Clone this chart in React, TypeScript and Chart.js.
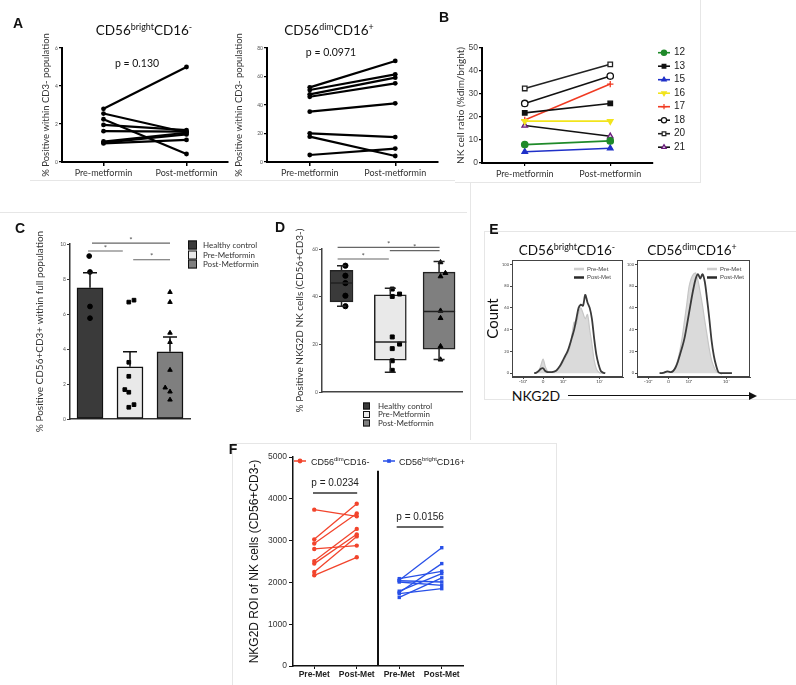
import React, { useEffect, useRef } from 'react';
import { Chart, registerables } from 'chart.js';
import { drawPoint } from 'chart.js/helpers';

Chart.register(...registerables);

const SANS = 'Lato, "Open Sans", "DejaVu Sans", sans-serif';
const ARIAL = '"Liberation Sans", Arial, sans-serif';
Chart.defaults.font.family = SANS;
Chart.defaults.color = '#333';

// ===== Panel A =====
const aCategories = ['Pre-metformin', 'Post-metformin'];
const aBrightPre = [2.8, 2.55, 2.25, 1.95, 1.62, 1.08, 1.02, 0.98];
const aBrightPost = [5.0, 1.55, 0.42, 1.68, 1.6, 1.54, 1.45, 1.16];
const aBrightTicks = [0, 2, 4, 6];
const aDimPre = [52.4, 50.5, 47.5, 45.8, 35.3, 20.1, 17.8, 4.9];
const aDimPost = [70.9, 61.5, 59.2, 55.2, 41.2, 17.5, 4.2, 9.4];
const aDimTicks = [0, 20, 40, 60, 80];

// ===== Panel B =====
const bSubjects = ['12', '13', '15', '16', '17', '18', '20', '21'];
const bPre = [8.0, 21.8, 4.9, 18.2, 18.7, 25.9, 32.4, 16.3];
const bPost = [9.6, 25.9, 6.4, 18.2, 34.3, 37.8, 42.9, 11.6];
const bTicks = [0, 10, 20, 30, 40, 50];
const bLineColors = ['#1f8a2a', '#111111', '#1f30c8', '#f2e41c', '#f03a22', '#111111', '#222222', '#111111'];
const bPointStyles = ['circle', 'rect', 'triangle', 'triangle', 'cross', 'circle', 'rect', 'triangle'];
const bPointRotation = [0, 0, 0, 180, 0, 0, 0, 0];
const bPointFill = ['#1f8a2a', '#111111', '#1f30c8', '#f2e41c', '#f03a22', '#ffffff', '#ffffff', '#d9c2e6'];
const bPointEdge = ['#1f8a2a', '#111111', '#1f30c8', '#f2e41c', '#f03a22', '#111111', '#222222', '#6a1b7a'];

// ===== Panel C =====
const cGroups = ['Healthy control', 'Pre-Metformin', 'Post-Metformin'];
const cMeans = [7.5, 2.98, 3.84];
const cSemTop = [8.36, 3.85, 4.69];
const cHealthy = [9.31, 8.4, 6.43, 5.76];
const cHealthyX = [-0.02, 0, 0, 0];
const cPre = [6.68, 6.79, 3.24, 2.44, 1.68, 1.53, 0.67, 0.82];
const cPreX = [0.97, 1.1, 0.97, 0.97, 0.87, 0.97, 0.97, 1.1];
const cPost = [7.25, 6.68, 4.92, 4.39, 2.8, 1.79, 1.56, 1.1];
const cPostX = [2, 2, 2, 2, 2, 1.88, 2, 2];
const cTicks = [0, 2, 4, 6, 8, 10];
const cSigFrom = [0.05, -0.05, 1.08];
const cSigTo = [2.0, 0.82, 2.0];
const cSigY = [10.05, 9.6, 9.1];
const groupColors = ['#3a3a3a', '#e9e9e9', '#7f7f7f'];

// ===== Panel D =====
const dMin = [36, 8.3, 13.6];
const dQ1 = [37.8, 13.4, 18];
const dMedian = [45.7, 21, 33.8];
const dQ3 = [51, 40.8, 50.3];
const dMax = [53, 43.5, 54.8];
const dHealthy = [53, 48.8, 45.7, 40.4, 36];
const dHealthyX = [0.08, 0.08, 0.08, 0.08, 0.08];
const dPre = [43.2, 40.1, 41.1, 23.1, 20.1, 18.2, 13.1, 9.1];
const dPreX = [1.04, 1.04, 1.19, 1.04, 1.19, 1.04, 1.04, 1.04];
const dPost = [54.4, 48.5, 49.9, 34.1, 31, 19.2, 13.6];
const dPostX = [2.03, 2.03, 2.13, 2.03, 2.03, 2.03, 2.03];
const dTicks = [0, 20, 40, 60];
const dSigFrom = [-0.08, 0.99, -0.08];
const dSigTo = [2.01, 2.01, 0.97];
const dSigY = [60.7, 59.3, 55.8];
const dBoxWidths = [23, 32, 32];
const dCapWidths = [9, 11, 11];

// ===== Panel E =====
const eBins = [20, 22, 24, 26, 28, 30, 32, 34, 36, 38, 40, 42, 44, 46, 48, 50, 52, 54, 56, 58, 60, 62, 64, 66, 68, 70, 72, 74, 76, 78, 80, 82, 84];
const eBrightPre = [0, 0.5, 2, 7, 13, 6, 2, 1, 1, 1.5, 2.5, 4, 7, 10, 14, 18, 23, 35, 47, 45, 55, 60, 55, 50, 54, 40, 27, 12, 4, 1, 0, 0, 0];
const eBrightPost = [0, 0.5, 2, 4, 4.5, 2, 1, 1, 1, 1.5, 2.5, 5, 8, 12, 16, 20, 26, 33, 40, 50, 60, 63, 62, 72, 65, 60, 50, 32, 17, 8, 2, 0.5, 0];
const eDimPre = [0, 0, 0.5, 1, 1, 1, 2, 6, 12, 21, 33, 48, 63, 79, 87, 91, 92, 85, 74, 62, 48, 35, 22, 12, 6, 2, 0.5, 0, 0, 0, 0, 0, 0];
const eDimPost = [0, 0, 0.5, 1.5, 1.5, 1, 2, 5, 10, 17, 24, 32, 43, 55, 67, 78, 87, 91, 87, 91, 84, 68, 50, 30, 16, 7, 1, 0, 0, 0, 0, 0, 0];
const eTickValues = [10, 28, 46, 79];
const eTickLabels = ['-10³', '0', '10³', '10⁴'];
const eYTicks = [0, 20, 40, 60, 80, 100];

// ===== Panel F =====
const fLabels = ['Pre-Met', 'Post-Met', 'Pre-Met', 'Post-Met'];
const fDimPre = [3740, 3030, 2930, 2800, 2510, 2450, 2250, 2170];
const fDimPost = [3580, 3880, 3650, 2880, 3280, 3150, 3100, 2600];
const fBrightPre = [2050, 1760, 2090, 1790, 1640, 2010, 2040, 1730];
const fBrightPost = [2830, 2450, 2265, 2210, 2110, 1930, 2010, 1850];
const fTicks = [0, 1000, 2000, 3000, 4000, 5000];
const fPFrom = [-0.03, 1.94];
const fPTo = [1.01, 3.04];
const fPY = [4140, 3325];
const fPText = ['p = 0.0234', 'p = 0.0156'];
const fSepTop = 4670;

const setTicks = (vals: number[]) => (s: any) => {
  s.ticks = vals.map((v) => ({ value: v }));
};

const baseOpts = (pad: any) => ({
  responsive: false,
  animation: false,
  events: [],
  layout: { padding: pad },
  plugins: { legend: { display: false }, tooltip: { enabled: false } },
});

// ---------- A ----------
function pairedConfig(pre: number[], post: number[], yMax: number, yTicks: number[], pad: any, yW: number, xH: number, tPad: number) {
  return {
    type: 'line',
    data: {
      labels: aCategories,
      datasets: pre.map((v, i) => ({
        data: [v, post[i]],
        borderColor: '#000',
        backgroundColor: '#000',
        borderWidth: 2.2,
        pointRadius: 2.4,
        pointBorderWidth: 0,
      })),
    },
    options: {
      ...baseOpts(pad),
      scales: {
        x: {
          offset: true,
          grid: { drawOnChartArea: false, color: '#000', lineWidth: 1.5, tickLength: 4 },
          border: { color: '#000', width: 2 },
          ticks: { font: { size: 9 }, color: '#333', padding: 2, maxRotation: 0, autoSkip: false },
          afterFit: (s: any) => { s.height = xH; },
        },
        y: {
          min: 0,
          max: yMax,
          afterBuildTicks: setTicks(yTicks),
          grid: { drawOnChartArea: false, color: '#000', lineWidth: 1.2, tickLength: 3 },
          border: { color: '#000', width: 2 },
          ticks: { font: { size: 5 }, color: '#555', padding: 1, callback: (v: any) => String(v) },
          title: { display: true, text: '% Positive within CD3- population', font: { size: 9.5 }, color: '#333', padding: { top: tPad, bottom: 0 } },
          afterFit: (s: any) => { s.width = yW; },
        },
      },
    },
  };
}

// ---------- B ----------
const bLegendPlugin = (L: number, T: number) => ({
  id: 'bLegend',
  afterDraw(chart: any) {
    const ctx = chart.ctx;
    ctx.save();
    ctx.translate(-L, -T);
    bSubjects.forEach((s, i) => {
      const y = 52.7 + i * 13.5;
      ctx.strokeStyle = bLineColors[i];
      ctx.lineWidth = 1.6;
      ctx.beginPath();
      ctx.moveTo(658, y);
      ctx.lineTo(670, y);
      ctx.stroke();
      ctx.fillStyle = bPointFill[i];
      ctx.strokeStyle = bPointEdge[i];
      ctx.lineWidth = 1.2;
      drawPoint(ctx, { pointStyle: bPointStyles[i], rotation: bPointRotation[i], radius: 2.6, borderWidth: 1.2 } as any, 664, y);
      ctx.fillStyle = '#222';
      ctx.font = `10px ${ARIAL}`;
      ctx.textBaseline = 'middle';
      ctx.textAlign = 'left';
      ctx.fillText(s, 674, y);
    });
    ctx.restore();
  },
});

function buildB() {
  return {
    type: 'line',
    data: {
      labels: aCategories,
      datasets: bSubjects.map((s, i) => ({
        label: s,
        data: [bPre[i], bPost[i]],
        borderColor: bLineColors[i],
        borderWidth: 1.6,
        pointStyle: bPointStyles[i],
        pointRotation: bPointRotation[i],
        pointRadius: 3.2,
        pointBackgroundColor: bPointFill[i],
        pointBorderColor: bPointEdge[i],
        pointBorderWidth: 1.3,
      })),
    },
    options: {
      ...baseOpts({ left: 0, right: 49, top: 48, bottom: 3 }),
      scales: {
        x: {
          offset: true,
          grid: { drawOnChartArea: false, color: '#000', lineWidth: 1.2, tickLength: 3 },
          border: { color: '#000', width: 2 },
          ticks: { font: { size: 9 }, color: '#333', padding: 3, maxRotation: 0, autoSkip: false },
          afterFit: (s: any) => { s.height = 19; },
        },
        y: {
          min: 0,
          max: 50,
          afterBuildTicks: setTicks(bTicks),
          grid: { drawOnChartArea: false, color: '#000', lineWidth: 1.2, tickLength: 3 },
          border: { color: '#000', width: 2 },
          ticks: { font: { size: 8.5, family: ARIAL }, color: '#444', padding: 1, callback: (v: any) => String(v) },
          title: { display: true, text: 'NK cell ratio (%dim/bright)', font: { size: 10 }, color: '#333', padding: { top: 3, bottom: 0 } },
          afterFit: (s: any) => { s.width = 30; },
        },
      },
    },
    plugins: [bLegendPlugin(452, 0)],
  };
}

// ---------- shared legend for C / D ----------
const boxLegendPlugin = (L: number, T: number, sqX: number, sq: number, textX: number, rows: number[], fs: number) => ({
  id: 'boxLegend',
  afterDraw(chart: any) {
    const ctx = chart.ctx;
    ctx.save();
    ctx.translate(-L, -T);
    cGroups.forEach((g, i) => {
      const y = rows[i];
      ctx.fillStyle = groupColors[i];
      ctx.strokeStyle = '#111';
      ctx.lineWidth = 1;
      ctx.fillRect(sqX, y - sq / 2, sq, sq);
      ctx.strokeRect(sqX + 0.5, y - sq / 2 + 0.5, sq - 1, sq - 1);
      ctx.fillStyle = '#333';
      ctx.font = `${fs}px ${SANS}`;
      ctx.textBaseline = 'middle';
      ctx.textAlign = 'left';
      ctx.fillText(g, textX, y);
    });
    ctx.restore();
  },
});

const sigDraw = (ctx: any, x: any, y: any, from: number[], to: number[], ys: number[]) => {
  ctx.strokeStyle = '#666';
  ctx.lineWidth = 1.2;
  ctx.fillStyle = '#555';
  ctx.font = `8px ${SANS}`;
  ctx.textAlign = 'center';
  ctx.textBaseline = 'bottom';
  from.forEach((f, i) => {
    const x0 = x.getPixelForValue(f);
    const x1 = x.getPixelForValue(to[i]);
    const py = y.getPixelForValue(ys[i]);
    ctx.beginPath();
    ctx.moveTo(x0, py);
    ctx.lineTo(x1, py);
    ctx.stroke();
    ctx.fillText('*', (x0 + x1) / 2, py + 1);
  });
};

// ---------- C ----------
const cExtras = {
  id: 'cExtras',
  afterDatasetsDraw(chart: any) {
    const { ctx, scales } = chart;
    const x = scales.x;
    const y = scales.y;
    ctx.save();
    ctx.strokeStyle = '#111';
    ctx.lineWidth = 1.5;
    cMeans.forEach((m, i) => {
      const px = x.getPixelForValue(i);
      const y0 = y.getPixelForValue(m);
      const y1 = y.getPixelForValue(cSemTop[i]);
      ctx.beginPath();
      ctx.moveTo(px, y0);
      ctx.lineTo(px, y1);
      ctx.moveTo(px - 7, y1);
      ctx.lineTo(px + 7, y1);
      ctx.stroke();
    });
    sigDraw(ctx, x, y, cSigFrom, cSigTo, cSigY);
    ctx.restore();
  },
};

function pts(vals: number[], xs: number[]) {
  return vals.map((v, i) => ({ x: xs[i], y: v }));
}

function buildC() {
  return {
    type: 'bar',
    data: {
      datasets: [
        {
          type: 'bar',
          data: cMeans.map((m, i) => ({ x: i, y: m })),
          backgroundColor: groupColors,
          borderColor: '#111',
          borderWidth: 1.5,
          borderSkipped: false,
          barThickness: 26,
          order: 2,
        },
        { type: 'scatter', data: pts(cHealthy, cHealthyX), pointStyle: 'circle', pointRadius: 2.4, backgroundColor: '#000', borderColor: '#000', order: 1 },
        { type: 'scatter', data: pts(cPre, cPreX), pointStyle: 'rect', pointRadius: 2.6, backgroundColor: '#000', borderColor: '#000', order: 1 },
        { type: 'scatter', data: pts(cPost, cPostX), pointStyle: 'triangle', pointRadius: 2.6, backgroundColor: '#000', borderColor: '#000', order: 1 },
      ],
    },
    options: {
      ...baseOpts({ left: 32, right: 82, top: 59, bottom: 14 }),
      scales: {
        x: {
          type: 'linear',
          offset: false,
          min: -0.5,
          max: 2.5,
          ticks: { display: false },
          grid: { display: true, drawOnChartArea: false, drawTicks: false },
          border: { color: '#333', width: 1.5 },
          afterFit: (s: any) => { s.height = 2; },
        },
        y: {
          min: 0,
          max: 10,
          afterBuildTicks: setTicks(cTicks),
          ticks: { font: { size: 5 }, color: '#555', padding: 1, callback: (v: any) => String(v) },
          grid: { drawOnChartArea: false, tickLength: 3, color: '#333' },
          border: { color: '#333', width: 1.5 },
          title: { display: true, text: '% Positive CD56+CD3+ within full population', font: { size: 10 }, color: '#333', padding: { top: 2, bottom: 0 } },
          afterFit: (s: any) => { s.width = 38; },
        },
      },
    },
    plugins: [cExtras, boxLegendPlugin(0, 185, 188, 9, 203, [245, 255, 264], 8)],
  };
}

// ---------- D ----------
const dExtras = {
  id: 'dExtras',
  afterDatasetsDraw(chart: any) {
    const { ctx, scales } = chart;
    const x = scales.x;
    const y = scales.y;
    ctx.save();
    ctx.strokeStyle = '#222';
    ctx.lineWidth = 1.5;
    dMedian.forEach((med, i) => {
      const px = x.getPixelForValue(i);
      const hw = dBoxWidths[i] / 2;
      const cw = dCapWidths[i] / 2;
      const yMed = y.getPixelForValue(med);
      const yQ1 = y.getPixelForValue(dQ1[i]);
      const yQ3 = y.getPixelForValue(dQ3[i]);
      const yMin = y.getPixelForValue(dMin[i]);
      const yMax = y.getPixelForValue(dMax[i]);
      ctx.beginPath();
      ctx.moveTo(px - hw, yMed);
      ctx.lineTo(px + hw, yMed);
      ctx.moveTo(px, yQ3);
      ctx.lineTo(px, yMax);
      ctx.moveTo(px - cw, yMax);
      ctx.lineTo(px + cw, yMax);
      ctx.moveTo(px, yQ1);
      ctx.lineTo(px, yMin);
      ctx.moveTo(px - cw, yMin);
      ctx.lineTo(px + cw, yMin);
      ctx.stroke();
    });
    sigDraw(ctx, x, y, dSigFrom, dSigTo, dSigY);
    ctx.restore();
  },
};

function buildD() {
  return {
    type: 'bar',
    data: {
      datasets: [
        ...cGroups.map((g, i) => ({
          type: 'bar',
          label: g,
          data: [{ x: i, y: [dQ1[i], dQ3[i]] }],
          backgroundColor: groupColors[i],
          borderColor: '#222',
          borderWidth: 1.5,
          borderSkipped: false,
          barThickness: dBoxWidths[i],
          grouped: false,
          order: 2,
        })),
        { type: 'scatter', data: pts(dHealthy, dHealthyX), pointStyle: 'circle', pointRadius: 2.6, backgroundColor: '#000', borderColor: '#000', order: 1 },
        { type: 'scatter', data: pts(dPre, dPreX), pointStyle: 'rect', pointRadius: 2.8, backgroundColor: '#000', borderColor: '#000', order: 1 },
        { type: 'scatter', data: pts(dPost, dPostX), pointStyle: 'triangle', pointRadius: 2.8, backgroundColor: '#000', borderColor: '#000', order: 1 },
      ],
    },
    options: {
      ...baseOpts({ left: 20, right: 8, top: 59, bottom: 41 }),
      scales: {
        x: {
          type: 'linear',
          offset: false,
          min: -0.4,
          max: 2.47,
          ticks: { display: false },
          grid: { display: true, drawOnChartArea: false, drawTicks: false },
          border: { color: '#444', width: 1.5 },
          afterFit: (s: any) => { s.height = 2; },
        },
        y: {
          min: 0,
          max: 60,
          afterBuildTicks: setTicks(dTicks),
          ticks: { font: { size: 5 }, color: '#555', padding: 1, callback: (v: any) => String(v) },
          grid: { drawOnChartArea: false, tickLength: 3, color: '#444' },
          border: { color: '#444', width: 1.5 },
          title: { display: true, text: '% Positive NKG2D NK cells (CD56+CD3-)', font: { size: 10 }, color: '#333', padding: { top: 2, bottom: 0 } },
          afterFit: (s: any) => { s.width = 30; },
        },
      },
    },
    plugins: [dExtras, boxLegendPlugin(272, 190, 363, 7, 378, [406, 414.5, 423], 8)],
  };
}

// ---------- E ----------
const histPlugin = (L: number, T: number, lineX: number, textX: number) => ({
  id: 'histExtras',
  afterDatasetsDraw(chart: any) {
    const { ctx, chartArea: a } = chart;
    ctx.save();
    ctx.strokeStyle = '#444';
    ctx.lineWidth = 1;
    ctx.strokeRect(a.left + 0.5, a.top + 0.5, a.right - a.left - 1, a.bottom - a.top - 1);
    ctx.translate(-L, -T);
    ctx.font = `6px ${ARIAL}`;
    ctx.textBaseline = 'middle';
    ctx.textAlign = 'left';
    ctx.strokeStyle = '#cfcfcf';
    ctx.lineWidth = 2.5;
    ctx.beginPath();
    ctx.moveTo(lineX, 269);
    ctx.lineTo(lineX + 10, 269);
    ctx.stroke();
    ctx.strokeStyle = '#2a2a2a';
    ctx.beginPath();
    ctx.moveTo(lineX, 277.5);
    ctx.lineTo(lineX + 10, 277.5);
    ctx.stroke();
    ctx.fillStyle = '#444';
    ctx.fillText('Pre-Met', textX, 269);
    ctx.fillText('Post-Met', textX, 277.5);
    ctx.restore();
  },
});

function buildHist(pre: number[], post: number[], pad: any, yW: number, withTitle: boolean, L: number, lineX: number, textX: number) {
  return {
    type: 'line',
    data: {
      datasets: [
        { data: pts(post, eBins), borderColor: '#3a3a3a', borderWidth: 1.8, pointRadius: 0, fill: false, tension: 0.3, order: 0 },
        { data: pts(pre, eBins), borderColor: '#c6c6c6', backgroundColor: '#dadada', borderWidth: 1.2, pointRadius: 0, fill: 'origin', tension: 0.3, order: 1 },
      ],
    },
    options: {
      ...baseOpts(pad),
      scales: {
        x: {
          type: 'linear',
          min: 0,
          max: 100,
          afterBuildTicks: setTicks(eTickValues),
          ticks: { font: { size: 4.5 }, color: '#444', padding: 0, maxRotation: 0, callback: (v: any, i: number) => eTickLabels[i] },
          grid: { drawOnChartArea: false, tickLength: 2, color: '#444' },
          border: { color: '#444', width: 1 },
          afterFit: (s: any) => { s.height = 8; },
        },
        y: {
          min: -3.5,
          max: 104,
          afterBuildTicks: setTicks(eYTicks),
          ticks: { font: { size: 4 }, color: '#444', padding: 1, callback: (v: any) => String(v) },
          grid: { drawOnChartArea: false, tickLength: 2, color: '#444' },
          border: { color: '#444', width: 1 },
          title: { display: withTitle, text: 'Count', font: { size: 15 }, color: '#111', padding: 0 },
          afterFit: (s: any) => { s.width = yW; },
        },
      },
    },
    plugins: [histPlugin(L, 240, lineX, textX)],
  };
}

// ---------- F ----------
function drawRich(ctx: any, parts: [string, boolean][], x: number, y: number, size: number, color: string) {
  let cx = x;
  ctx.fillStyle = color;
  ctx.textAlign = 'left';
  ctx.textBaseline = 'alphabetic';
  parts.forEach(([t, sup]) => {
    ctx.font = `${sup ? size * 0.66 : size}px ${ARIAL}`;
    ctx.fillText(t, cx, sup ? y - size * 0.42 : y);
    cx += ctx.measureText(t).width;
  });
}

const fExtras = {
  id: 'fExtras',
  afterDatasetsDraw(chart: any) {
    const { ctx, scales } = chart;
    const x = scales.x;
    const y = scales.y;
    ctx.save();
    ctx.strokeStyle = '#111';
    ctx.lineWidth = 2;
    ctx.beginPath();
    ctx.moveTo(x.getPixelForValue(1.5), y.getPixelForValue(fSepTop));
    ctx.lineTo(x.getPixelForValue(1.5), y.getPixelForValue(0));
    ctx.stroke();
    fPFrom.forEach((f, i) => {
      const x0 = x.getPixelForValue(f);
      const x1 = x.getPixelForValue(fPTo[i]);
      const py = y.getPixelForValue(fPY[i]);
      ctx.strokeStyle = '#333';
      ctx.lineWidth = 1.5;
      ctx.beginPath();
      ctx.moveTo(x0, py);
      ctx.lineTo(x1, py);
      ctx.stroke();
      ctx.fillStyle = '#222';
      ctx.font = `10px ${ARIAL}`;
      ctx.textAlign = 'center';
      ctx.textBaseline = 'middle';
      ctx.fillText(fPText[i], (x0 + x1) / 2, py - 10);
    });
    ctx.translate(-232, -443);
    ctx.lineWidth = 1.5;
    ctx.strokeStyle = '#f2442c';
    ctx.fillStyle = '#f2442c';
    ctx.beginPath();
    ctx.moveTo(294, 461);
    ctx.lineTo(306, 461);
    ctx.stroke();
    drawPoint(ctx, { pointStyle: 'circle', radius: 2.4, borderWidth: 0 } as any, 300, 461);
    drawRich(ctx, [['CD56', false], ['dim', true], ['CD16-', false]], 311, 464.5, 9, '#222');
    ctx.strokeStyle = '#2850e8';
    ctx.fillStyle = '#2850e8';
    ctx.beginPath();
    ctx.moveTo(383, 461);
    ctx.lineTo(395, 461);
    ctx.stroke();
    drawPoint(ctx, { pointStyle: 'rect', radius: 2.6, borderWidth: 0 } as any, 389, 461);
    drawRich(ctx, [['CD56', false], ['bright', true], ['CD16+', false]], 399, 464.5, 9, '#222');
    ctx.restore();
  },
};

function buildF() {
  const red = fDimPre.map((v, i) => ({
    data: [{ x: 0, y: v }, { x: 1, y: fDimPost[i] }],
    borderColor: '#f2442c',
    backgroundColor: '#f2442c',
    borderWidth: 1.3,
    pointRadius: 2.2,
    pointBorderWidth: 0,
    pointStyle: 'circle',
  }));
  const blue = fBrightPre.map((v, i) => ({
    data: [{ x: 2, y: v }, { x: 3, y: fBrightPost[i] }],
    borderColor: '#2850e8',
    backgroundColor: '#2850e8',
    borderWidth: 1.3,
    pointRadius: 2.4,
    pointBorderWidth: 0,
    pointStyle: 'rect',
  }));
  return {
    type: 'line',
    data: { datasets: [...red, ...blue] },
    options: {
      ...baseOpts({ left: 13, right: 93, top: 14, bottom: 2 }),
      scales: {
        x: {
          type: 'linear',
          min: -0.5,
          max: 3.5,
          afterBuildTicks: setTicks([0, 1, 2, 3]),
          ticks: { font: { size: 8.5, family: ARIAL, weight: 'bold' }, color: '#222', padding: 1, maxRotation: 0, callback: (v: any, i: number) => fLabels[i] },
          grid: { drawOnChartArea: false, tickLength: 3, color: '#111' },
          border: { color: '#111', width: 1.5 },
          afterFit: (s: any) => { s.height = 17; },
        },
        y: {
          min: 0,
          max: 5000,
          afterBuildTicks: setTicks(fTicks),
          ticks: { font: { size: 8.5, family: ARIAL }, color: '#333', padding: 2, callback: (v: any) => String(v) },
          grid: { drawOnChartArea: false, tickLength: 4, color: '#111' },
          border: { color: '#111', width: 1.5 },
          title: { display: true, text: 'NKG2D ROI of NK cells (CD56+CD3-)', font: { size: 12, family: ARIAL }, color: '#111', padding: { top: 2, bottom: 0 } },
          afterFit: (s: any) => { s.width = 48; },
        },
      },
    },
    plugins: [fExtras],
  };
}

// ---------- components ----------
function ChartCanvas({ box, build }: { box: number[]; build: () => any }) {
  const ref = useRef<HTMLCanvasElement | null>(null);
  useEffect(() => {
    if (!ref.current) return;
    const chart = new Chart(ref.current, build());
    return () => chart.destroy();
  }, []);
  const [l, t, w, h] = box;
  return <canvas ref={ref} width={w} height={h} style={{ position: 'absolute', left: l, top: t, width: w, height: h }} />;
}

function Sup({ children }: any) {
  return <span style={{ fontSize: '0.66em', position: 'relative', top: '-0.55em' }}>{children}</span>;
}

function Label({ x, y, size, family = SANS, bold = false, color = '#111', children }: any) {
  return (
    <div
      style={{
        position: 'absolute',
        left: x,
        top: y,
        transform: 'translate(-50%, -50%)',
        fontSize: size,
        fontFamily: family,
        fontWeight: bold ? 700 : 400,
        lineHeight: 1,
        whiteSpace: 'nowrap',
        color,
      }}
    >
      {children}
    </div>
  );
}

function Rule({ l, t, w, h }: any) {
  return <div style={{ position: 'absolute', left: l, top: t, width: w, height: h, background: '#e6e6e6' }} />;
}

export default function App() {
  return (
    <div style={{ position: 'absolute', left: 0, top: 0, width: 796, height: 685, background: '#fff', overflow: 'hidden' }}>
      <Rule l={30} t={180} w={425} h={1} />
      <Rule l={455} t={182} w={245} h={1} />
      <Rule l={700} t={0} w={1} h={183} />
      <Rule l={0} t={212} w={467} h={1} />
      <Rule l={470} t={183} w={1} h={257} />
      <Rule l={484} t={231} w={312} h={1} />
      <Rule l={484} t={231} w={1} h={168} />
      <Rule l={484} t={399} w={312} h={1} />
      <Rule l={232} t={443} w={324} h={1} />
      <Rule l={232} t={443} w={1} h={242} />
      <Rule l={556} t={443} w={1} h={242} />

      <ChartCanvas box={[0, 0, 232, 185]} build={() => pairedConfig(aBrightPre, aBrightPost, 6, aBrightTicks, { left: 37, right: 4, top: 48, bottom: 4 }, 25, 19, 3)} />
      <ChartCanvas box={[232, 0, 228, 185]} build={() => pairedConfig(aDimPre, aDimPost, 80, aDimTicks, { left: 0, right: 22, top: 48, bottom: 4 }, 35, 19, 1)} />
      <ChartCanvas box={[452, 0, 250, 185]} build={buildB} />
      <ChartCanvas box={[0, 185, 272, 250]} build={buildC} />
      <ChartCanvas box={[272, 190, 198, 245]} build={buildD} />
      <ChartCanvas box={[484, 240, 145, 145]} build={() => buildHist(eBrightPre, eBrightPost, { left: 0, right: 6, top: 20, bottom: 0 }, 28, true, 484, 574, 587)} />
      <ChartCanvas box={[624, 240, 131, 145]} build={() => buildHist(eDimPre, eDimPost, { left: 0, right: 5, top: 20, bottom: 0 }, 13, false, 624, 707, 720)} />
      <ChartCanvas box={[232, 443, 324, 242]} build={buildF} />

      <Label x={18} y={23} size={14} family={ARIAL} bold>A</Label>
      <Label x={144} y={31} size={13.5}>CD56<Sup>bright</Sup>CD16<Sup>-</Sup></Label>
      <Label x={137} y={63} size={10.5}>p = 0.130</Label>
      <Label x={329} y={31} size={13.5}>CD56<Sup>dim</Sup>CD16<Sup>+</Sup></Label>
      <Label x={331} y={52} size={10.5}>p = 0.0971</Label>
      <Label x={444} y={17} size={14} family={ARIAL} bold>B</Label>
      <Label x={20} y={228} size={14} family={ARIAL} bold>C</Label>
      <Label x={280} y={227} size={14} family={ARIAL} bold>D</Label>
      <Label x={494} y={229} size={14} family={ARIAL} bold>E</Label>
      <Label x={233} y={449} size={14} family={ARIAL} bold>F</Label>
      <Label x={567} y={251} size={13.5}>CD56<Sup>bright</Sup>CD16<Sup>-</Sup></Label>
      <Label x={692} y={251} size={13.5}>CD56<Sup>dim</Sup>CD16<Sup>+</Sup></Label>
      <Label x={536} y={396} size={14}>NKG2D</Label>
      <div style={{ position: 'absolute', left: 568, top: 395, width: 182, height: 1, background: '#111' }} />
      <div style={{ position: 'absolute', left: 749, top: 391.5, width: 0, height: 0, borderLeft: '8px solid #111', borderTop: '4px solid transparent', borderBottom: '4px solid transparent' }} />
    </div>
  );
}
